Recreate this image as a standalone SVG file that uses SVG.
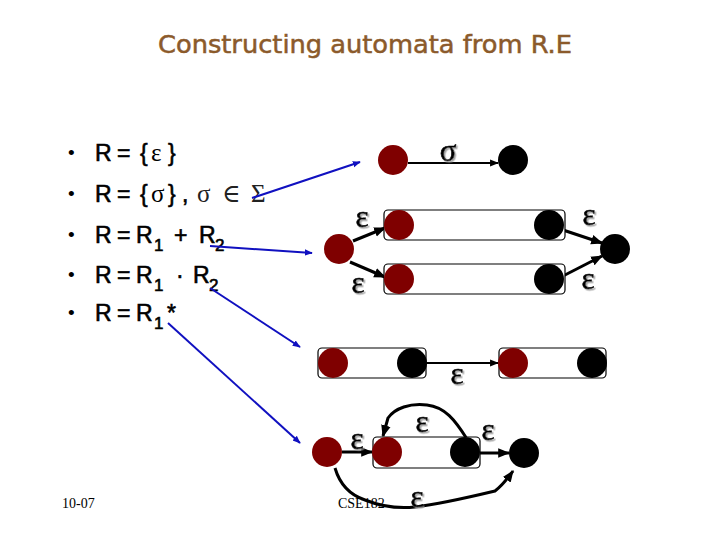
<svg xmlns="http://www.w3.org/2000/svg" width="720" height="540" viewBox="0 0 720 540">
<defs>
<marker id="ah" viewBox="0 0 10 10" refX="9" refY="5" markerWidth="4" markerHeight="4" orient="auto" markerUnits="strokeWidth"><path d="M0,1 L10,5 L0,9 z" fill="#000"/></marker>
<marker id="ahb" viewBox="0 0 10 10" refX="9" refY="5" markerWidth="4" markerHeight="4" orient="auto" markerUnits="strokeWidth"><path d="M0,1 L10,5 L0,9 z" fill="#1010c0"/></marker>
<filter id="sh" x="-50%" y="-50%" width="200%" height="200%"><feDropShadow dx="1.5" dy="1.5" stdDeviation="0.6" flood-color="#999" flood-opacity="0.9"/></filter>
</defs>
<style>
.t{font-family:"Liberation Sans","DejaVu Sans",sans-serif;font-size:23px;fill:#000;stroke:#000;stroke-width:0.6}
.sym{font-family:"Liberation Serif","DejaVu Serif",serif;font-size:25px;stroke-width:0}
.sub{font-size:17px}
.lab{font-family:"Liberation Serif","DejaVu Serif",serif;font-size:31px;fill:#000;stroke:#000;stroke-width:0.6;text-anchor:middle;filter:url(#sh)}
.foot{font-family:"Liberation Serif","DejaVu Serif",serif;font-size:14px;fill:#000}
.red{fill:#7f0000}
.blk{fill:#000}
.box{fill:#fff;stroke:#000;stroke-width:1.2}
.c{fill:none;stroke:#000;stroke-width:3}
.c2{fill:none;stroke:#000;stroke-width:2.2}
.bl{fill:none;stroke:#1010c0;stroke-width:2}
</style>
<rect width="720" height="540" fill="#fff"/>
<text x="365" y="53" text-anchor="middle" textLength="414" lengthAdjust="spacingAndGlyphs" style="font-family:'DejaVu Sans','Liberation Sans',sans-serif;font-size:24px;fill:#8b5a2b;stroke:#8b5a2b;stroke-width:0.5">Constructing automata from R.E</text>

<g id="list">
<text class="t" x="68" y="159" style="font-size:19px;stroke-width:0">•</text>
<text class="t" x="68" y="200" style="font-size:19px;stroke-width:0">•</text>
<text class="t" x="68" y="241" style="font-size:19px;stroke-width:0">•</text>
<text class="t" x="68" y="281" style="font-size:19px;stroke-width:0">•</text>
<text class="t" x="68" y="319" style="font-size:19px;stroke-width:0">•</text>
<text class="t" y="161"><tspan x="95">R</tspan><tspan x="117">=</tspan><tspan x="140">{</tspan><tspan class="sym" x="151">ε</tspan><tspan x="168">}</tspan></text>
<text class="t" y="202"><tspan x="95">R</tspan><tspan x="117">=</tspan><tspan x="140">{</tspan><tspan class="sym" x="151">σ</tspan><tspan x="168">}</tspan><tspan x="182">,</tspan><tspan class="sym" x="197" style="fill:#222">σ</tspan><tspan class="sym" x="222" style="fill:#222">∈</tspan><tspan class="sym" x="251" style="fill:#222">Σ</tspan></text>
<text class="t" y="243"><tspan x="95">R</tspan><tspan x="117">=</tspan><tspan x="136">R</tspan><tspan class="sub" x="154" dy="8">1</tspan><tspan x="174" dy="-8">+</tspan><tspan x="199">R</tspan><tspan class="sub" x="215" dy="8">2</tspan></text>
<text class="t" y="283"><tspan x="95">R</tspan><tspan x="117">=</tspan><tspan x="136">R</tspan><tspan class="sub" x="154" dy="8">1</tspan><tspan x="176" dy="-8">·</tspan><tspan x="193">R</tspan><tspan class="sub" x="209" dy="8">2</tspan></text>
<text class="t" y="321"><tspan x="95">R</tspan><tspan x="117">=</tspan><tspan x="136">R</tspan><tspan class="sub" x="154" dy="8">1</tspan><tspan x="167" dy="-8">*</tspan></text>
</g>

<g id="connectors">
<line class="bl" x1="252" y1="198" x2="360" y2="162" marker-end="url(#ahb)"/>
<line class="bl" x1="210" y1="246" x2="312" y2="253" marker-end="url(#ahb)"/>
<line class="bl" x1="210" y1="288" x2="300" y2="347" marker-end="url(#ahb)"/>
<line class="bl" x1="168" y1="323" x2="300" y2="443" marker-end="url(#ahb)"/>

<line class="c2" x1="408" y1="163" x2="498" y2="163" marker-end="url(#ah)"/>

<line class="c" x1="353" y1="241" x2="385" y2="228" marker-end="url(#ah)"/>
<line class="c" x1="350" y1="262" x2="385" y2="277" marker-end="url(#ah)"/>
<line class="c" x1="563" y1="230" x2="602" y2="243" marker-end="url(#ah)"/>
<line class="c" x1="563" y1="276" x2="602" y2="256" marker-end="url(#ah)"/>

<line class="c2" x1="426" y1="363" x2="498" y2="363" marker-end="url(#ah)"/>

<line class="c" x1="342" y1="452" x2="372" y2="452" marker-end="url(#ah)"/>
<line class="c" x1="480" y1="453" x2="509" y2="453" marker-end="url(#ah)"/>
<path class="c" d="M467,439 C455,420 445,407 427,405 C410,403 395,408 388,418 L383,436" marker-end="url(#ah)"/>
<path class="c" d="M335,468 C340,485 350,495 365,500 C380,506 395,509 415,507 C440,504 470,497 495,491 C503,485 508,478 513,471" marker-end="url(#ah)"/>
</g>

<g id="n-sigma">
<circle class="red" cx="393" cy="160" r="15"/>
<circle class="blk" cx="513" cy="160" r="15"/>
<text class="lab" x="448" y="161">σ</text>
</g>

<g id="n-union">
<circle class="red" cx="339" cy="249" r="15"/>
<rect class="box" x="384" y="210" width="181" height="30" rx="4"/>
<circle class="red" cx="399" cy="225" r="15"/>
<circle class="blk" cx="549" cy="225" r="15"/>
<rect class="box" x="384" y="264" width="181" height="30" rx="4"/>
<circle class="red" cx="399" cy="279" r="15"/>
<circle class="blk" cx="549" cy="279" r="15"/>
<circle class="blk" cx="615" cy="249" r="15"/>
<text class="lab" x="362" y="227">ε</text>
<text class="lab" x="358" y="293">ε</text>
<text class="lab" x="589" y="225">ε</text>
<text class="lab" x="588" y="289">ε</text>
</g>

<g id="n-concat">
<rect class="box" x="318" y="348" width="108" height="30" rx="4"/>
<circle class="red" cx="333" cy="363" r="15"/>
<circle class="blk" cx="412" cy="363" r="15"/>
<rect class="box" x="499" y="348" width="107" height="30" rx="4"/>
<circle class="red" cx="513" cy="363" r="15"/>
<circle class="blk" cx="592" cy="363" r="15"/>
<text class="lab" x="457" y="384">ε</text>
</g>

<g id="n-star">
<circle class="red" cx="327" cy="452" r="15"/>
<rect class="box" x="373" y="437" width="107" height="31" rx="4"/>
<circle class="red" cx="387" cy="452" r="15"/>
<circle class="blk" cx="465" cy="452" r="15"/>
<circle class="blk" cx="524" cy="453" r="15"/>
<text class="lab" x="357" y="449">ε</text>
<text class="lab" x="422" y="432">ε</text>
<text class="lab" x="488" y="440">ε</text>
</g>

<g id="footer">
<text class="foot" x="62" y="508">10-07</text>
<text class="foot" x="338" y="508">CSE182</text>
<text class="lab" x="417" y="507">ε</text>
</g>
</svg>
